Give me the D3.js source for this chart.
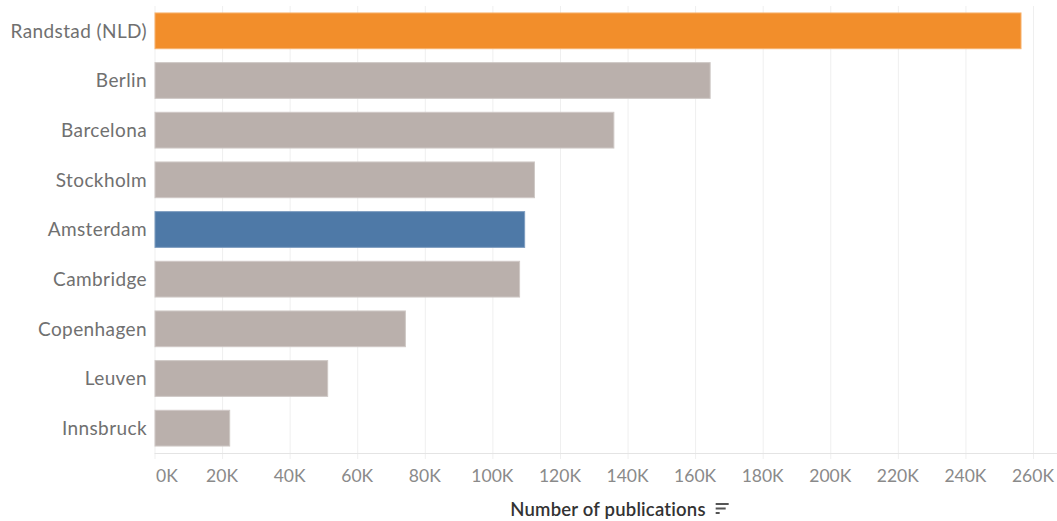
<!DOCTYPE html>
<html>
<head>
<meta charset="utf-8">
<script src="https://cdn.jsdelivr.net/npm/d3@7"></script>
<style>
  html, body { margin: 0; padding: 0; background: #fff; }
  svg { display: block; }
</style>
</head>
<body>
<svg id="chart" width="1057" height="521"></svg>
<script>
// Publications per city / region, sorted descending
const categories = ["Randstad (NLD)", "Berlin", "Barcelona", "Stockholm", "Amsterdam",
                    "Cambridge", "Copenhagen", "Leuven", "Innsbruck"];
const publications = [256600, 164600, 136100, 112600, 109700, 108200, 74400, 51400, 22400];
const groups = ["region", "city", "city", "city", "focus", "city", "city", "city", "city"];
const tickValues = [0, 20000, 40000, 60000, 80000, 100000, 120000, 140000,
                    160000, 180000, 200000, 220000, 240000, 260000];
const axisTitle = "Number of publications";

const fontFamily = "Lato, 'Open Sans', sans-serif";
const svg = d3.select("#chart");

const x = d3.scaleLinear().domain([0, 260000]).range([154.5, 1033]);
const y = d3.scaleBand().domain(categories).range([6, 453])
  .paddingInner(0.26).paddingOuter(0.13);

const fill = d3.scaleOrdinal().domain(["region", "focus", "city"])
  .range(["#F28E2B", "#4E79A7", "#BAB0AC"]);
const edge = d3.scaleOrdinal().domain(["region", "focus", "city"])
  .range(["#F7B26E", "#7E9DC0", "#CFC8C5"]);

// vertical gridlines
svg.append("g")
  .selectAll("line")
  .data(tickValues)
  .join("line")
  .attr("x1", d => x(d) + 0.5).attr("x2", d => x(d) + 0.5)
  .attr("y1", 6).attr("y2", 459)
  .attr("stroke", "#efefef").attr("stroke-width", 1);

// bottom axis line
svg.append("line")
  .attr("x1", x(0)).attr("x2", 1057)
  .attr("y1", 453.5).attr("y2", 453.5)
  .attr("stroke", "#e4e4e4");

// bars
const rows = categories.map((c, i) => ({ c, v: publications[i], g: groups[i] }));
svg.append("g")
  .selectAll("rect")
  .data(rows)
  .join("rect")
  .attr("x", x(0) + 0.5)
  .attr("y", d => y(d.c) + 0.5)
  .attr("width", d => x(d.v) - x(0) - 1)
  .attr("height", y.bandwidth() - 1)
  .attr("fill", d => fill(d.g))
  .attr("stroke", d => edge(d.g))
  .attr("stroke-width", 1);

// category labels
svg.append("g")
  .selectAll("text")
  .data(categories)
  .join("text")
  .attr("x", 147)
  .attr("y", d => y(d) + y.bandwidth() / 2)
  .attr("dy", "0.36em")
  .attr("text-anchor", "end")
  .attr("font-family", fontFamily)
  .attr("font-size", 19)
  .attr("letter-spacing", "0.4px")
  .attr("fill", "#707070")
  .text(d => d);

// x tick labels
svg.append("g")
  .selectAll("text")
  .data(tickValues)
  .join("text")
  .attr("x", (d, i) => i === 0 ? x(d) + 1.5 : x(d))
  .attr("y", 482)
  .attr("text-anchor", (d, i) => i === 0 ? "start" : "middle")
  .attr("font-family", fontFamily)
  .attr("font-size", 17.5)
  .attr("fill", "#8a8a8a")
  .text(d => d3.format("d")(d / 1000) + "K");

// axis title with sort indicator
const title = svg.append("text")
  .attr("x", 608)
  .attr("y", 516)
  .attr("text-anchor", "middle")
  .attr("font-family", fontFamily)
  .attr("font-size", 18.5)
  .attr("font-weight", 600)
  .attr("letter-spacing", "0.2px")
  .attr("fill", "#333")
  .text(axisTitle);

const tb = title.node().getBBox();
const icon = svg.append("g").attr("transform", `translate(${tb.x + tb.width + 10},503)`);
[13, 10, 4].forEach((w, i) => {
  icon.append("rect").attr("x", 0).attr("y", i * 4.5).attr("width", w).attr("height", 2)
    .attr("fill", "#555");
});
</script>
</body>
</html>
